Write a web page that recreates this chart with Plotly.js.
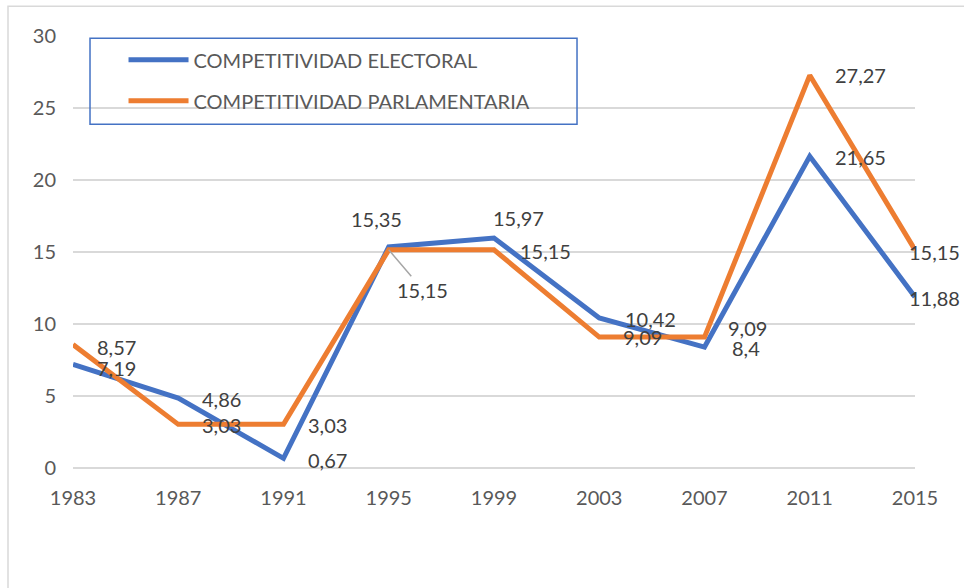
<!DOCTYPE html>
<html>
<head>
<meta charset="utf-8">
<script src="https://cdn.plot.ly/plotly-3.0.1.min.js"></script>
<style>html,body{margin:0;padding:0;background:#fff;}#chart{width:964px;height:588px;}</style>
</head>
<body>
<div id="chart"></div>
<script>
// ---- data ----
const years = [1983, 1987, 1991, 1995, 1999, 2003, 2007, 2011, 2015];
const tickLabels = ["1983", "1987", "1991", "1995", "1999", "2003", "2007", "2011", "2015"];
const electoral = [7.19, 4.86, 0.67, 15.35, 15.97, 10.42, 8.4, 21.65, 11.88];
const parlamentaria = [8.57, 3.03, 3.03, 15.15, 15.15, 9.09, 9.09, 27.27, 15.15];
const seriesNames = ["COMPETITIVIDAD ELECTORAL", "COMPETITIVIDAD PARLAMENTARIA"];

// ---- label placement (pixel offsets, style only) ----
const elecOffsets = [[22,-4,'left'],[22,-1,'left'],[22,-2,'left'],[-12,28,'center'],[-3,20,'left'],[24,-1,'left'],[25,-1,'left'],[23,-1,'left'],[-8,-1,'left']];
const parlOffsets = [[22,-2,'left'],[22,-1,'left'],[22,-1,'left'],null,[24,-1,'left'],[22,0,'left'],[21,9,'left'],[23,0,'left'],[-8,-2,'left']];

const FONT = "Lato, 'Noto Sans', sans-serif";
const fmt = v => String(v).replace('.', ',');

const blue = '#4472C4', orange = '#ED7D31';

const traces = [
  {x: years, y: electoral, name: seriesNames[0], type: 'scatter', mode: 'lines',
   line: {color: blue, width: 5}, legendgroup: 'a', hoverinfo: 'skip'},
  {x: years, y: parlamentaria, name: seriesNames[1], type: 'scatter', mode: 'lines',
   line: {color: orange, width: 5}, legendgroup: 'b', hoverinfo: 'skip'}
];

const annotations = [];
function addLabels(vals, offs) {
  vals.forEach((v, i) => {
    const o = offs[i];
    if (!o) return;
    annotations.push({x: years[i], y: v, xref: 'x', yref: 'y', text: fmt(v), showarrow: false,
      xanchor: o[2], yanchor: 'middle', xshift: o[0], yshift: o[1],
      font: {family: FONT, size: 20, color: '#404040'}});
  });
}
addLabels(electoral, elecOffsets);
addLabels(parlamentaria, parlOffsets);
// 1995 parlamentaria label with leader line
annotations.push({x: years[3], y: parlamentaria[3], xref: 'x', yref: 'y', text: fmt(parlamentaria[3]),
  showarrow: true, arrowhead: 0, arrowwidth: 1.5, arrowcolor: '#a6a6a6', ax: 34, ay: 40, standoff: 0,
  font: {family: FONT, size: 20, color: '#404040'}});

const layout = {
  width: 964, height: 588,
  margin: {l: 73, r: 49, t: 36, b: 120, pad: 0},
  paper_bgcolor: '#fff', plot_bgcolor: '#fff',
  font: {family: FONT, size: 20, color: '#595959'},
  xaxis: {range: [1983, 2015], tickvals: years, ticktext: tickLabels, showgrid: false,
    zeroline: false, showline: false, ticks: '', ticklabelstandoff: 16,
    tickfont: {family: FONT, size: 20, color: '#595959'}, fixedrange: true},
  yaxis: {range: [0, 30], dtick: 5, tick0: 0, gridcolor: '#d9d9d9', gridwidth: 1.5,
    zeroline: true, zerolinecolor: '#d9d9d9', zerolinewidth: 1.5, showline: false, ticks: '',
    ticklabelstandoff: 16, tickfont: {family: FONT, size: 20, color: '#595959'}, fixedrange: true},
  showlegend: true,
  legend: {x: 0.06, y: 0.99, xanchor: 'left', yanchor: 'top', bgcolor: 'rgba(0,0,0,0)',
    borderwidth: 0, traceorder: 'grouped', tracegroupgap: 12, itemwidth: 60,
    font: {family: FONT, size: 20, color: '#595959'}},
  annotations: annotations,
  shapes: [
    {type: 'rect', xref: 'paper', yref: 'paper', x0: 0.0202, x1: 0.5986, y0: 0.7956, y1: 0.9947,
     line: {color: blue, width: 1.5}, fillcolor: 'rgba(0,0,0,0)'},
    {type: 'rect', xref: 'paper', yref: 'paper', x0: -0.0772, x1: 2, y0: -1, y1: 1.0687,
     line: {color: '#d9d9d9', width: 1.5}, fillcolor: 'rgba(0,0,0,0)', layer: 'below'}
  ]
};

Plotly.newPlot('chart', traces, layout, {displayModeBar: false, staticPlot: true});
</script>
</body>
</html>
